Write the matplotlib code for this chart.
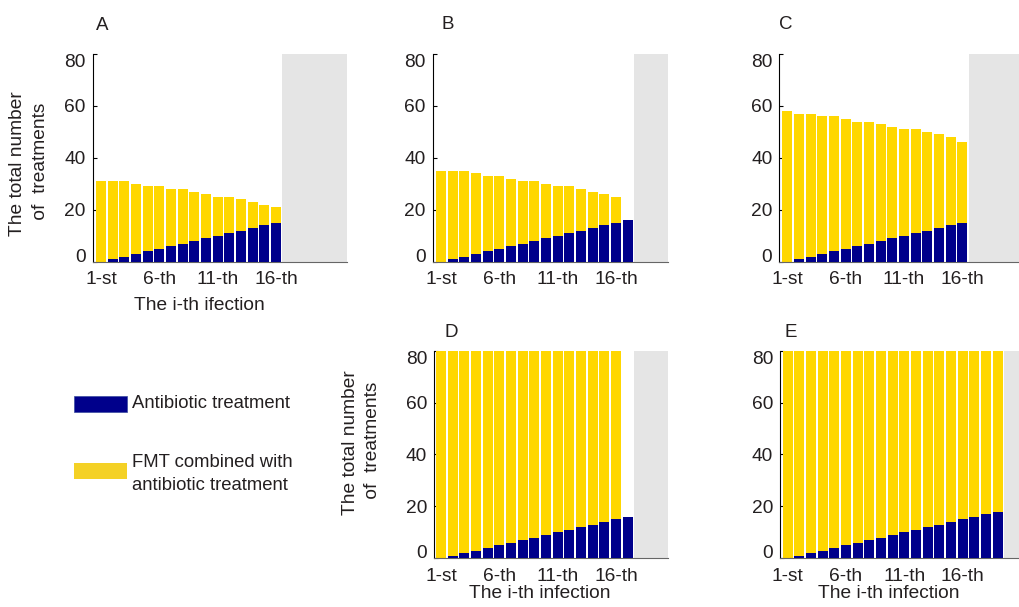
import numpy as np
import matplotlib.pyplot as plt
from matplotlib.patches import Rectangle

plt.rcParams['font.family'] = ['Liberation Sans', 'DejaVu Sans']

# values
ticks = [1, 6, 11, 16]
tick_labels = ['1-st', '6-th', '11-th', '16-th']

a_total = [31, 31, 31, 30, 29, 29, 28, 28, 27, 26, 25, 25, 24, 23, 22, 21]
a_abx = [0, 1, 2, 3, 4, 5, 6, 7, 8, 9, 10, 11, 12, 13, 14, 15]

b_total = [35, 35, 35, 34, 33, 33, 32, 31, 31, 30, 29, 29, 28, 27, 26, 25, 0]
b_abx = [0, 1, 2, 3, 4, 5, 6, 7, 8, 9, 10, 11, 12, 13, 14, 15, 16]

c_total = [58, 57, 57, 56, 56, 55, 54, 54, 53, 52, 51, 51, 50, 49, 48, 46]
c_abx = [0, 1, 2, 3, 4, 5, 6, 7, 8, 9, 10, 11, 12, 13, 14, 15]

d_total = [80, 80, 80, 80, 80, 80, 80, 80, 80, 80, 80, 80, 80, 80, 80, 80, 0]
d_abx = [0, 1, 2, 3, 4, 5, 6, 7, 8, 9, 10, 11, 12, 13, 14, 15, 16]

e_total = [80, 80, 80, 80, 80, 80, 80, 80, 80, 80, 80, 80, 80, 80, 80, 80, 80, 80, 80]
e_abx = [0, 1, 2, 3, 4, 5, 6, 7, 8, 9, 10, 11, 12, 13, 14, 15, 16, 17, 18]

YELLOW = '#FFD700'
BLUE = '#00008B'
GRAY = '#E5E5E5'
TXT = '#231F20'

W, H = 1020, 607
PX_PER_UNIT = 11.67

fig = plt.figure(figsize=(W / 100, H / 100), dpi=100)


def make_axes(left_px, y0_px, xlim):
    # y0_px is the pixel row of the zero line, 80 sits 207.7 px above it
    width_px = (xlim[1] - xlim[0]) * PX_PER_UNIT
    h_px = 207.7
    ax = fig.add_axes([left_px / W, 1 - y0_px / H, width_px / W, h_px / H])
    ax.set_xlim(*xlim)
    return ax


def draw_panel(ax, total, abx, letter, letter_xy):
    n = len(total)
    x = np.arange(1, n + 1)
    ax.axvspan(n + 0.55, ax.get_xlim()[1], color=GRAY, lw=0, zorder=0)
    ax.bar(x, total, width=0.85, color=YELLOW, lw=0, zorder=2)
    ax.bar(x, abx, width=0.85, color=BLUE, lw=0, zorder=3)
    ax.set_ylim(0, 80)
    ax.set_yticks([0, 20, 40, 60, 80])
    ax.set_xticks(ticks)
    ax.set_xticklabels(tick_labels)
    for s in ['top', 'right']:
        ax.spines[s].set_visible(False)
    ax.spines['left'].set_color('black')
    ax.spines['left'].set_linewidth(0.8)
    ax.spines['bottom'].set_color('#666666')
    ax.spines['bottom'].set_linewidth(0.8)
    ax.tick_params(axis='y', direction='in', length=3, width=0.8, pad=5,
                   labelsize=13.8, labelcolor=TXT)
    ax.tick_params(axis='x', length=0, pad=7, labelsize=13.8, labelcolor=TXT)
    labels = ax.get_yticklabels()
    labels[0].set_va('baseline')
    labels[-1].set_va('top')
    fig.text(letter_xy[0] / W, 1 - letter_xy[1] / H, letter, ha='center',
             va='baseline', fontsize=13.5, color=TXT)


ax_a = make_axes(92.7, 261.7, (0.29, 22.08))
draw_panel(ax_a, a_total, a_abx, 'A', (102, 30))
ax_b = make_axes(432.7, 261.7, (0.29, 20.45))
draw_panel(ax_b, b_total, b_abx, 'B', (448, 29))
ax_c = make_axes(779.3, 261.7, (0.31, 21.5))
draw_panel(ax_c, c_total, c_abx, 'C', (786, 29))
ax_d = make_axes(434, 558.3, (0.4, 20.45))
draw_panel(ax_d, d_total, d_abx, 'D', (451.7, 337))
ax_e = make_axes(780, 558.3, (0.34, 21.5))
draw_panel(ax_e, e_total, e_abx, 'E', (791, 337))

# axis titles
fig.text(199.5 / W, 1 - 310 / H, 'The i-th ifection', ha='center',
         va='baseline', fontsize=13.8, color=TXT)
fig.text(540 / W, 1 - 598.3 / H, 'The i-th infection', ha='center',
         va='baseline', fontsize=13.8, color=TXT)
fig.text(889 / W, 1 - 598.3 / H, 'The i-th infection', ha='center',
         va='baseline', fontsize=13.8, color=TXT)
ylab = 'The total number\n of  treatments'
fig.text(29 / W, 1 - 163.5 / H, ylab, rotation=90, ha='center', va='center',
         multialignment='center', linespacing=1.4, fontsize=13.8, color=TXT)
fig.text(361.5 / W, 1 - 443 / H, ylab, rotation=90, ha='center', va='center',
         multialignment='center', linespacing=1.4, fontsize=13.8, color=TXT)

# legend
fig.patches.append(Rectangle((74.3 / W, 1 - 412.3 / H), 52.4 / W, 16.6 / H,
                             transform=fig.transFigure, facecolor=BLUE,
                             edgecolor='#3a4aa0', lw=0.5))
fig.text(131.7 / W, 1 - 404 / H, 'Antibiotic treatment', ha='left',
         va='center', fontsize=13.3, color=TXT)
fig.patches.append(Rectangle((74.3 / W, 1 - 479.3 / H), 52.4 / W, 16.3 / H,
                             transform=fig.transFigure, facecolor='#F4D125',
                             lw=0))
fig.text(131.7 / W, 1 - 474 / H, 'FMT combined with\nantibiotic treatment',
         ha='left', va='center', linespacing=1.5, fontsize=13.3, color=TXT)

fig.savefig('out.png', dpi=100)
